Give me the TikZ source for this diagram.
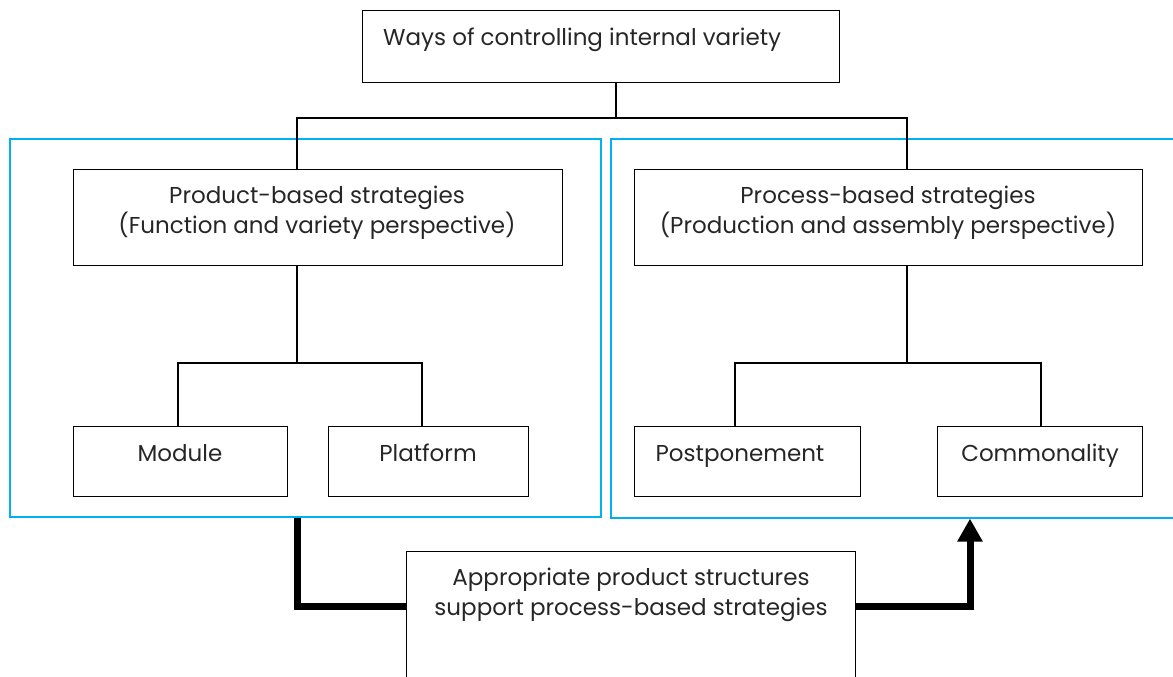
\documentclass[tikz,border=0pt]{standalone}
\usepackage{fontspec}
\setmainfont{Poppins}
\usetikzlibrary{arrows.meta}
\definecolor{frameblue}{RGB}{0,176,240}
\begin{document}
\begin{tikzpicture}[x=1pt,y=-1pt,
  box/.style={draw=black,line width=1.4pt,inner sep=0pt,anchor=north west,fill=none},
  frame/.style={draw=frameblue,line width=1.6pt,inner sep=0pt,anchor=north west},
  conn/.style={draw=black,line width=1.4pt},
  bigconn/.style={draw=black,line width=7pt,line join=miter},
  txt/.style={font=\fontsize{23}{30}\selectfont,align=center,inner sep=0pt,text=black!85}]
\useasboundingbox (0,0) rectangle (1173,677);
\clip (0,0) rectangle (1173,677);
% frames
\node[frame,minimum width=591pt,minimum height=378pt] (lframe) at (9,138) {};
\node[frame,minimum width=580pt,minimum height=379pt] (rframe) at (610,138) {};
% boxes
\node[box,minimum width=477pt,minimum height=72pt] (top) at (362,10) {};
\node[box,minimum width=489pt,minimum height=96pt] (prod) at (73,169) {};
\node[box,minimum width=508pt,minimum height=96pt] (proc) at (634,169) {};
\node[box,minimum width=214pt,minimum height=70pt] (mod) at (73,426) {};
\node[box,minimum width=200pt,minimum height=70pt] (plat) at (328,426) {};
\node[box,minimum width=226pt,minimum height=70pt] (post) at (634,426) {};
\node[box,minimum width=205pt,minimum height=70pt] (comm) at (937,426) {};
\node[box,minimum width=449pt,minimum height=140pt] (bot) at (406,551) {};
% texts
\node[txt,anchor=base west] (ttop) at (383,46) {Ways of controlling internal variety};
\node[txt] (tprod) at (317,213) {Product-based strategies\\(Function and variety perspective)};
\node[txt] (tproc) at (888,213) {Process-based strategies\\(Production and assembly perspective)};
\node[txt,anchor=base] (tmod) at (180,461) {Module};
\node[txt,anchor=base] (tplat) at (428,461) {Platform};
\node[txt,anchor=base] (tpost) at (740,461) {Postponement};
\node[txt,anchor=base] (tcomm) at (1040,461) {Commonality};
\node[txt] (tbot) at (631,595) {Appropriate product structures\\support process-based strategies};
% tree connectors
\coordinate (j0) at (616,118);
\coordinate (jl) at (297,118);
\coordinate (jr) at (907,118);
\draw[conn] (j0 |- top.south) -- (j0);
\draw[conn] (jl |- prod.north) -- (jl) -- (jr) -- (jr |- proc.north);
\coordinate (pl) at (297,363);
\coordinate (ml) at (178,363);
\coordinate (mr) at (422,363);
\draw[conn] (pl |- prod.south) -- (pl);
\draw[conn] (ml |- mod.north) -- (ml) -- (mr) -- (mr |- plat.north);
\coordinate (pr) at (907,363);
\coordinate (ql) at (735,363);
\coordinate (qr) at (1041,363);
\draw[conn] (pr |- proc.south) -- (pr);
\draw[conn] (ql |- post.north) -- (ql) -- (qr) -- (qr |- comm.north);
% thick link
\coordinate (a0) at (297,606);
\coordinate (a1) at (970,606);
\draw[bigconn] (a0 |- lframe.south) -- (a0) -- (a0 -| bot.west);
\draw[bigconn,-{Triangle[length=23pt,width=24pt]}] (a1 -| bot.east) -- (a1) -- (a1 |- rframe.south);
\end{tikzpicture}
\end{document}
